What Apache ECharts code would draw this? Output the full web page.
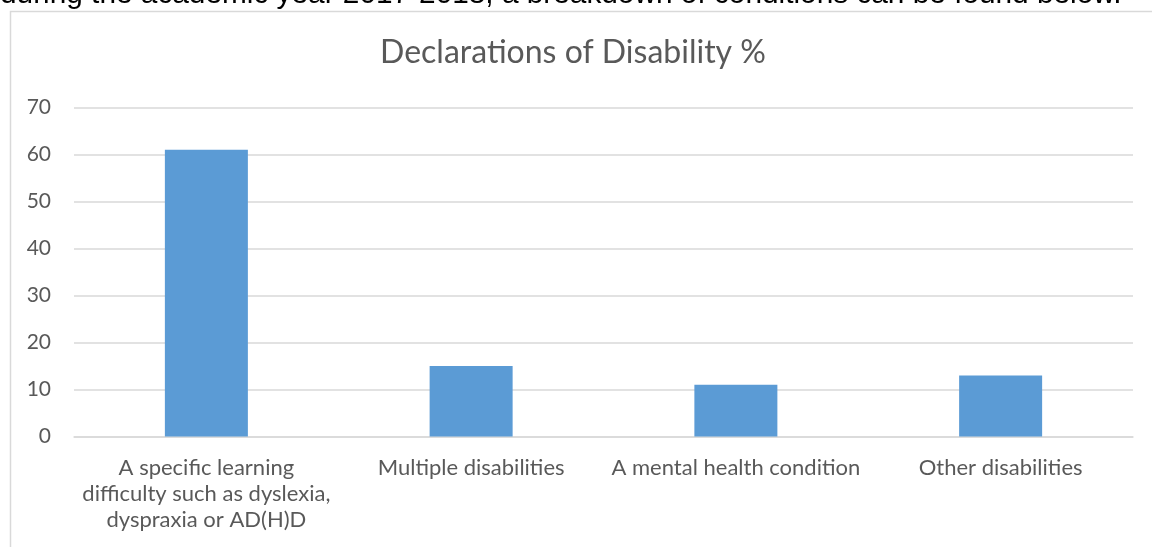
<!DOCTYPE html>
<html>
<head>
<meta charset="utf-8">
<style>
  html, body { margin: 0; padding: 0; background: #fff; }
  #chart { width: 1152px; height: 547px; }
</style>
<script src="https://cdn.jsdelivr.net/npm/echarts@6/dist/echarts.min.js"></script>
</head>
<body>
<div id="chart"></div>
<script>
// Share of students declaring each type of disability (%)
const categories = [
  'A specific learning\ndifficulty such as dyslexia,\ndyspraxia or AD(H)D',
  'Multiple disabilities',
  'A mental health condition',
  'Other disabilities'
];
const percentages = [61, 15, 11, 13];
const yTicks = { min: 0, max: 70, step: 10 };

const chartTitle = 'Declarations of Disability %';
const leadText = 'during the academic year 2017-2018, a breakdown of conditions can be found below.';

const textGrey = '#595959';
const lineGrey = '#d9d9d9';
const labelFont = 'Lato, "Open Sans", sans-serif';

// size the running sentence so it spans the page width
const leadFamily = '"Liberation Sans", Arial, sans-serif';
const probe = document.createElement('canvas').getContext('2d');
probe.font = '100px ' + leadFamily;
const leadSize = Math.round(100 * 1123 / probe.measureText(leadText).width * 10) / 10;

const chart = echarts.init(document.getElementById('chart'), null, { renderer: 'canvas' });

chart.setOption({
  backgroundColor: '#ffffff',
  animation: false,
  graphic: [
    {
      // sentence running in from the page above the chart
      type: 'text',
      x: 0,
      y: 10,
      style: {
        text: leadText,
        font: leadSize + 'px ' + leadFamily,
        fill: '#000000',
        verticalAlign: 'bottom'
      }
    },
    {
      // chart frame
      type: 'rect',
      shape: { x: 10.5, y: 11.5, width: 1160, height: 560 },
      style: { fill: 'none', stroke: lineGrey, lineWidth: 1.5 }
    },
    {
      type: 'text',
      x: 573,
      y: 53,
      style: {
        text: chartTitle,
        font: '32px ' + labelFont,
        fill: textGrey,
        align: 'center',
        verticalAlign: 'middle'
      }
    }
  ],
  grid: {
    left: 74,
    right: 19,
    top: 107.5,
    bottom: 110.5,
    containLabel: false
  },
  xAxis: {
    type: 'category',
    data: categories,
    axisLine: { show: true, lineStyle: { color: lineGrey, width: 1.5 } },
    axisTick: { show: false },
    axisLabel: {
      interval: 0,
      color: textGrey,
      fontFamily: labelFont,
      fontSize: 22,
      lineHeight: 26,
      margin: 18,
      align: 'center'
    }
  },
  yAxis: {
    type: 'value',
    min: yTicks.min,
    max: yTicks.max,
    interval: yTicks.step,
    axisLine: { show: false },
    axisTick: { show: false },
    splitLine: { lineStyle: { color: lineGrey, width: 1.5 } },
    axisLabel: {
      color: textGrey,
      fontFamily: labelFont,
      fontSize: 21,
      margin: 23
    }
  },
  series: [
    {
      type: 'bar',
      data: percentages,
      barWidth: 83,
      itemStyle: { color: '#5b9bd5' }
    }
  ]
});
</script>
</body>
</html>
